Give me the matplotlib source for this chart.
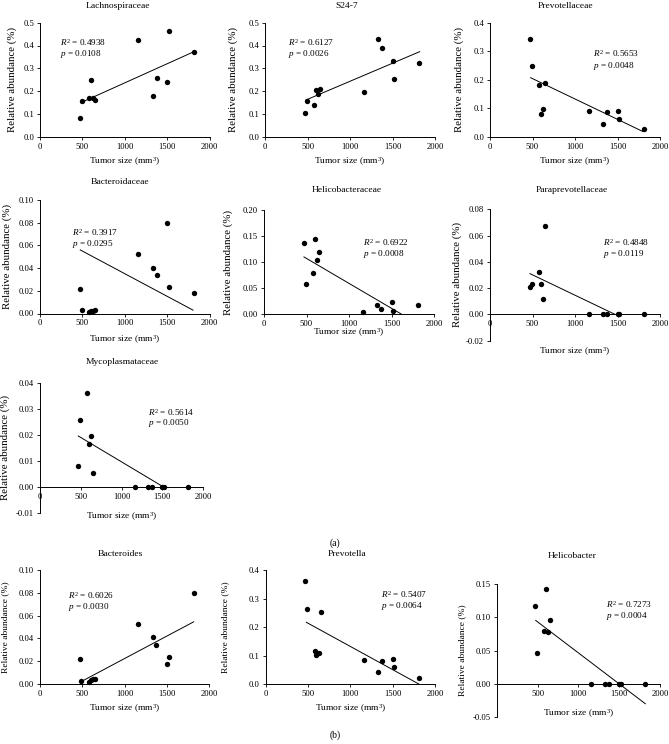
import numpy as np
import matplotlib.pyplot as plt
from matplotlib.ticker import FormatStrFormatter, MultipleLocator

plt.rcParams['font.family'] = ['Liberation Serif', 'DejaVu Serif']
plt.rcParams['mathtext.fontset'] = 'custom'
plt.rcParams['mathtext.rm'] = 'Liberation Serif'
plt.rcParams['mathtext.it'] = 'Liberation Serif:italic'

# tumor size of the 12 mice (mm^3), same order for every taxon
tumor_size = [470, 490, 580, 600, 625, 650, 1160, 1330, 1375, 1500, 1520, 1815]

# relative abundance (%) per taxon
lachnospiraceae = [0.080, 0.155, 0.170, 0.250, 0.168, 0.160, 0.424, 0.177, 0.257, 0.240, 0.463, 0.370]
s24_7 = [0.102, 0.156, 0.137, 0.205, 0.187, 0.208, 0.194, 0.430, 0.390, 0.332, 0.251, 0.322]
prevotellaceae = [0.343, 0.248, 0.182, 0.081, 0.098, 0.189, 0.090, 0.046, 0.085, 0.090, 0.063, 0.026]
bacteroidaceae = [0.0215, 0.003, 0.001, 0.0018, 0.0025, 0.0035, 0.0525, 0.0405, 0.0338, 0.0799, 0.0236, 0.018]
helicobacteraceae = [0.137, 0.0575, 0.080, 0.144, 0.105, 0.119, 0.005, 0.017, 0.010, 0.023, 0.007, 0.018]
paraprevotellaceae = [0.0212, 0.0233, 0.032, 0.023, 0.0116, 0.0674, 0.0, 0.0, 0.0, 0.0, 0.0, 0.0]
mycoplasmataceae = [0.0081, 0.0256, 0.0359, 0.0164, 0.0195, 0.0051, 0.0, 0.0, 0.0, 0.0, 0.0, 0.0]
bacteroides = [0.0217, 0.0032, 0.002, 0.0038, 0.0046, 0.0046, 0.0522, 0.0412, 0.0342, 0.0177, 0.0238, 0.0797]
prevotella = [0.360, 0.262, 0.117, 0.103, 0.108, 0.252, 0.085, 0.043, 0.080, 0.087, 0.059, 0.023]
helicobacter = [0.1166, 0.0472, 0.080, 0.1432, 0.0774, 0.0955, 0.0, 0.0, 0.0, 0.0, 0.0, 0.0]

titles = ["Lachnospiraceae", "S24-7", "Prevotellaceae", "Bacteroidaceae", "Helicobacteraceae",
          "Paraprevotellaceae", "Mycoplasmataceae", "Bacteroides", "Prevotella", "Helicobacter"]
r_squared = ["0.4938", "0.6127", "0.5653", "0.3917", "0.6922", "0.4848", "0.5614", "0.6026", "0.5407", "0.7273"]
p_values = ["0.0108", "0.0026", "0.0048", "0.0295", "0.0008", "0.0119", "0.0050", "0.0030", "0.0064", "0.0004"]

# regression lines as drawn in the figure: (x0, y0, x1, y1)
fit_lines = [
    (480, 0.149, 1811, 0.372),
    (482, 0.161, 1820, 0.373),
    (478, 0.207, 1800, 0.018),
    (475, 0.056, 1805, 0.003),
    (470, 0.110, 1620, 0.0),
    (470, 0.031, 1470, 0.0),
    (470, 0.0195, 1510, 0.0),
    (490, 0.0025, 1815, 0.0545),
    (480, 0.217, 1815, 0.0),
    (478, 0.0955, 1820, -0.030),
]

values = [lachnospiraceae, s24_7, prevotellaceae, bacteroidaceae, helicobacteraceae,
          paraprevotellaceae, mycoplasmataceae, bacteroides, prevotella, helicobacter]

# layout in pixels: axes box (left, top, right, bottom), y range, tick step, format,
# stats text (axes frac), title centre, xlabel y, ylabel x, ylabel size
layout = [
    dict(box=(40, 22.7, 209.5, 136.7), ylim=(0, 0.5), step=0.1, fmt='%.1f', txt=(0.118, 0.825, 0.725), tpos=(118, 6), xlab=161.5, ylab=11.7, ysz=7.8),
    dict(box=(265, 22.7, 435, 136.7), ylim=(0, 0.5), step=0.1, fmt='%.1f', txt=(0.137, 0.825, 0.722), tpos=(347, 6), xlab=161.5, ylab=233.3, ysz=7.8),
    dict(box=(490, 22.7, 660, 136.7), ylim=(0, 0.4), step=0.1, fmt='%.1f', txt=(0.604, 0.731, 0.623), tpos=(565, 6), xlab=161.5, ylab=459, ysz=7.8),
    dict(box=(40, 200, 209.5, 313.5), ylim=(0, 0.10), step=0.02, fmt='%.2f', txt=(0.187, 0.715, 0.612), tpos=(120, 181.7), xlab=339.3, ylab=6.7, ysz=7.8),
    dict(box=(264, 210, 434, 314.3), ylim=(0, 0.20), step=0.05, fmt='%.2f', txt=(0.584, 0.686, 0.575), tpos=(347, 190), xlab=333, ylab=228.3, ysz=7.8),
    dict(box=(490, 209.3, 660, 340.6), ylim=(-0.02, 0.08), step=0.02, fmt='%.2f', txt=(0.667, 0.746, 0.657), tpos=(572, 190), xlab=352, ylab=456.7, ysz=7.8),
    dict(box=(40, 382.7, 203, 512.7), ylim=(-0.01, 0.04), step=0.01, fmt='%.2f', txt=(0.664, 0.772, 0.688), tpos=(122, 361.7), xlab=517, ylab=5, ysz=7.8),
    dict(box=(40, 569.7, 209.3, 684.3), ylim=(0, 0.10), step=0.02, fmt='%.2f', txt=(0.167, 0.773, 0.672), tpos=(120, 554), xlab=708.3, ylab=5, ysz=6.8),
    dict(box=(265.7, 570, 435, 684.3), ylim=(0, 0.4), step=0.1, fmt='%.1f', txt=(0.679, 0.788, 0.686), tpos=(347, 554), xlab=708.3, ylab=225, ysz=6.8),
    dict(box=(496.7, 584.3, 660, 717), ylim=(-0.05, 0.15), step=0.05, fmt='%.2f', txt=(0.667, 0.849, 0.763), tpos=(572, 556), xlab=713.3, ylab=461.7, ysz=6.8),
]

W, H = 669, 744
fig = plt.figure(figsize=(W / 100, H / 100), dpi=100)

for k, lay in enumerate(layout):
    l, t, r, b = lay['box']
    ax = fig.add_axes([l / W, 1 - b / H, (r - l) / W, (b - t) / H])

    ax.scatter(tumor_size, values[k], s=15, color='k', zorder=3, clip_on=False, linewidths=0)
    x0, y0, x1, y1 = fit_lines[k]
    ax.plot([x0, x1], [y0, y1], color='k', linewidth=0.7)

    ax.set_xlim(0, 2000)
    ax.set_ylim(*lay['ylim'])
    ax.set_xticks([0, 500, 1000, 1500, 2000])
    ax.yaxis.set_major_locator(MultipleLocator(lay['step']))
    ax.yaxis.set_major_formatter(FormatStrFormatter(lay['fmt']))
    ax.spines['right'].set_visible(False)
    ax.spines['top'].set_visible(False)
    for s in ['left', 'bottom']:
        ax.spines[s].set_linewidth(0.7)
    if lay['ylim'][0] < 0:
        ax.spines['bottom'].set_position(('data', 0))
    if k == 9:
        # the zero label would sit on the y axis here, the original leaves it out
        ax.set_xticks([500, 1000, 1500, 2000])
    ax.tick_params(axis='both', direction='out', length=2.2, width=0.6, labelsize=6.2, pad=2)

    ax.set_xlabel(r"Tumor size (mm$^3$)", fontsize=6.8, va='center')
    ax.xaxis.set_label_coords(0.5, (b - lay['xlab']) / (b - t))
    ax.set_ylabel("Relative abundance (%)", fontsize=lay['ysz'], va='center')
    ax.yaxis.set_label_coords((lay['ylab'] - l) / (r - l), 0.5)

    tx, ty1, ty2 = lay['txt']
    ax.text(tx, ty1, r"$R^2$ = " + r_squared[k], transform=ax.transAxes, fontsize=6.6, va='center')
    ax.text(tx, ty2, r"$p$ = " + p_values[k], transform=ax.transAxes, fontsize=6.6, va='center')

    cx, cy = lay['tpos']
    fig.text(cx / W, 1 - cy / H, titles[k], fontsize=6.8, ha='center', va='center')

fig.text(335 / W, 1 - 543 / H, "(a)", fontsize=7, ha='center', va='center')
fig.text(335 / W, 1 - 735 / H, "(b)", fontsize=7, ha='center', va='center')

plt.savefig("out.png", dpi=100)
